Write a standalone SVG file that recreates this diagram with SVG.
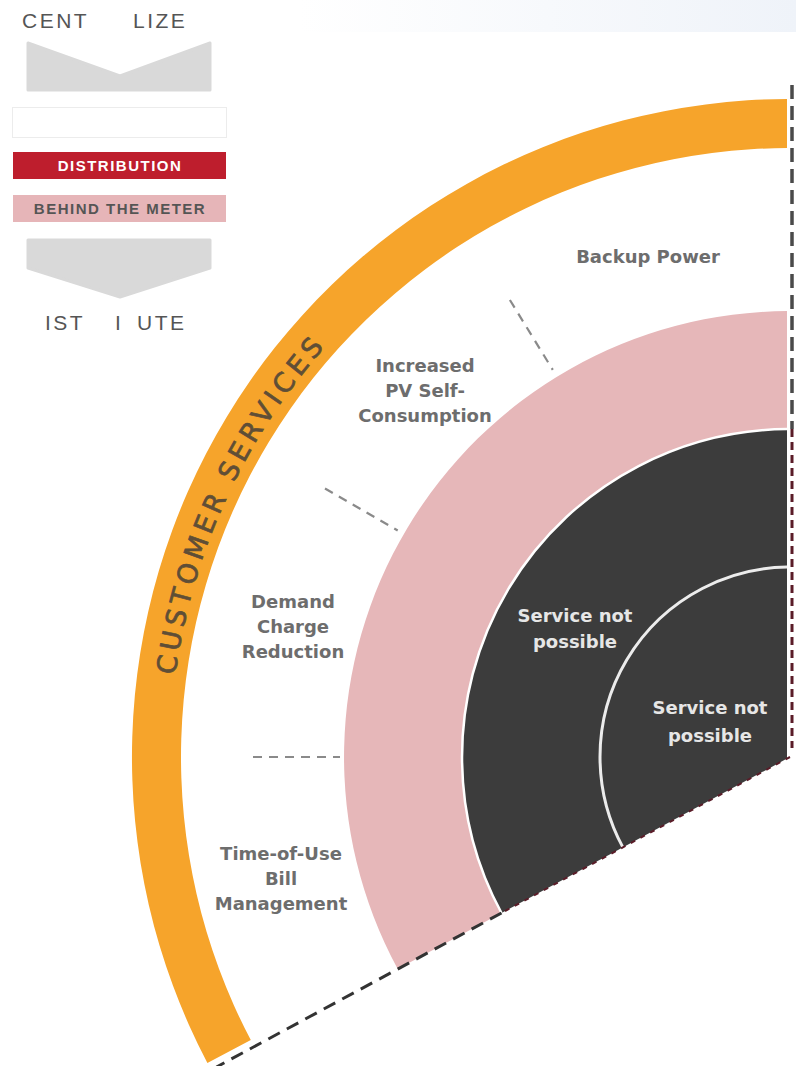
<svg xmlns="http://www.w3.org/2000/svg" width="796" height="1066" viewBox="0 0 796 1066">
<defs>
<linearGradient id="topband" x1="0" y1="0" x2="1" y2="0">
<stop offset="0" stop-color="#ffffff"/>
<stop offset="1" stop-color="#eff3f9"/>
</linearGradient>
<clipPath id="clipR"><rect x="0" y="0" width="787" height="1066"/></clipPath>
<path id="csArc" d="M 170 757 A 620 620 0 0 1 790 137"/>
<style>
.lbl{font-family:"DejaVu Sans","Liberation Sans",sans-serif;font-weight:bold;font-size:18px;fill:#6d6d6d;text-anchor:middle}
.lblw{font-family:"DejaVu Sans","Liberation Sans",sans-serif;font-weight:bold;font-size:18px;fill:#e6e6e6;text-anchor:middle}
.leg{font-family:"Liberation Sans",Arial,sans-serif;font-size:21px;fill:#555555;letter-spacing:2.5px}
.legb{font-family:"Liberation Sans",Arial,sans-serif;font-weight:bold;font-size:15px;letter-spacing:1.5px;text-anchor:middle}
.cs{font-family:"DejaVu Sans","Liberation Sans",sans-serif;font-size:27px;fill:#5f4e36;stroke:#5f4e36;stroke-width:0.7;letter-spacing:4.6px}
.sep{fill:none;stroke:#8a8a8a;stroke-width:2.2;stroke-dasharray:9 7}
.chev{fill:#d9d9d9;stroke:#d9d9d9;stroke-width:3;stroke-linejoin:round}
</style>
</defs>
<rect x="0" y="0" width="796" height="1066" fill="#ffffff"/>
<rect x="300" y="0" width="496" height="32" fill="url(#topband)"/>

<g id="legend">
<g id="legend-centralized">
<text class="leg" x="22" y="28">CENT</text>
<text class="leg" x="133" y="28">LIZE</text>
</g>
<polygon id="chevron-top" class="chev" points="28,43 120,76 210,43 210,90 28,90"/>
<rect id="legend-empty" x="12.5" y="107.5" width="214" height="30" fill="#ffffff" stroke="#ececec" stroke-width="1"/>
<g id="legend-distribution">
<rect x="13" y="152" width="213" height="27" fill="#be1e2d"/>
<text class="legb" x="120" y="171" fill="#ffffff">DISTRIBUTION</text>
</g>
<g id="legend-btm">
<rect x="13" y="195" width="213" height="27" fill="#e6b5b8"/>
<text class="legb" x="120" y="214" fill="#555555">BEHIND THE METER</text>
</g>
<polygon id="chevron-bottom" class="chev" points="28,240 210,240 210,268 120,297 28,268"/>
<g id="legend-distributed">
<text class="leg" x="45" y="330">IST</text>
<text class="leg" x="115" y="330">I</text>
<text class="leg" x="137" y="330">UTE</text>
</g>
</g>

<g id="rings" clip-path="url(#clipR)">
<g id="customer-services">
<path d="M 790 99 A 658 658 0 0 0 207.4 1062.9 L 250.8 1040.1 A 609 609 0 0 1 790 148 Z" fill="#f6a42b"/>
<text class="cs"><textPath href="#csArc" startOffset="82">CUSTOMER</textPath></text>
<text class="cs"><textPath href="#csArc" startOffset="284">SERVICES</textPath></text>
</g>
<g id="behind-the-meter-ring">
<path d="M 790 311 A 446 446 0 0 0 397.7 969.1 L 501.5 913 A 328 328 0 0 1 790 429 Z" fill="#e6b7b9"/>
</g>
<g id="dark-ring">
<path d="M 790 757 L 790 429 A 328 328 0 0 0 501.5 913 Z" fill="#3c3c3c"/>
<path d="M 790 429 A 328 328 0 0 0 501.5 913" fill="none" stroke="#ffffff" stroke-width="2.5"/>
<text class="lblw" x="575" y="622">Service not</text>
<text class="lblw" x="575" y="648">possible</text>
</g>
<g id="inner-ring">
<path d="M 790 567 A 190 190 0 0 0 622.9 847.4" fill="none" stroke="#ececec" stroke-width="3"/>
<text class="lblw" x="710" y="714">Service not</text>
<text class="lblw" x="710" y="742">possible</text>
</g>
</g>

<g id="label-backup-power">
<text class="lbl" x="648" y="263">Backup Power</text>
</g>
<g id="label-pv">
<text class="lbl" x="425" y="372">Increased</text>
<text class="lbl" x="425" y="397">PV Self-</text>
<text class="lbl" x="425" y="422">Consumption</text>
</g>
<g id="label-demand">
<text class="lbl" x="293" y="608">Demand</text>
<text class="lbl" x="293" y="633">Charge</text>
<text class="lbl" x="293" y="658">Reduction</text>
</g>
<g id="label-tou">
<text class="lbl" x="281" y="860">Time-of-Use</text>
<text class="lbl" x="281" y="885">Bill</text>
<text class="lbl" x="281" y="910">Management</text>
</g>

<g id="connectors">
<line class="sep" x1="253" y1="757" x2="340" y2="757"/>
<line class="sep" x1="325" y1="488.5" x2="397.7" y2="530.5"/>
<line class="sep" x1="509.9" y1="300" x2="552.8" y2="369.9"/>
<line x1="501.5" y1="913" x2="216.5" y2="1067" stroke="#333333" stroke-width="3" stroke-dasharray="13 8"/>
<line x1="790" y1="757" x2="501.5" y2="913" stroke="#5a1c28" stroke-width="2" stroke-dasharray="5 6"/>
<line x1="792" y1="85" x2="792" y2="429" stroke="#4a4a4a" stroke-width="3.5" stroke-dasharray="14 7"/>
<line x1="792" y1="429" x2="792" y2="748" stroke="#5a1c28" stroke-width="3" stroke-dasharray="8 5"/>
</g>
</svg>
